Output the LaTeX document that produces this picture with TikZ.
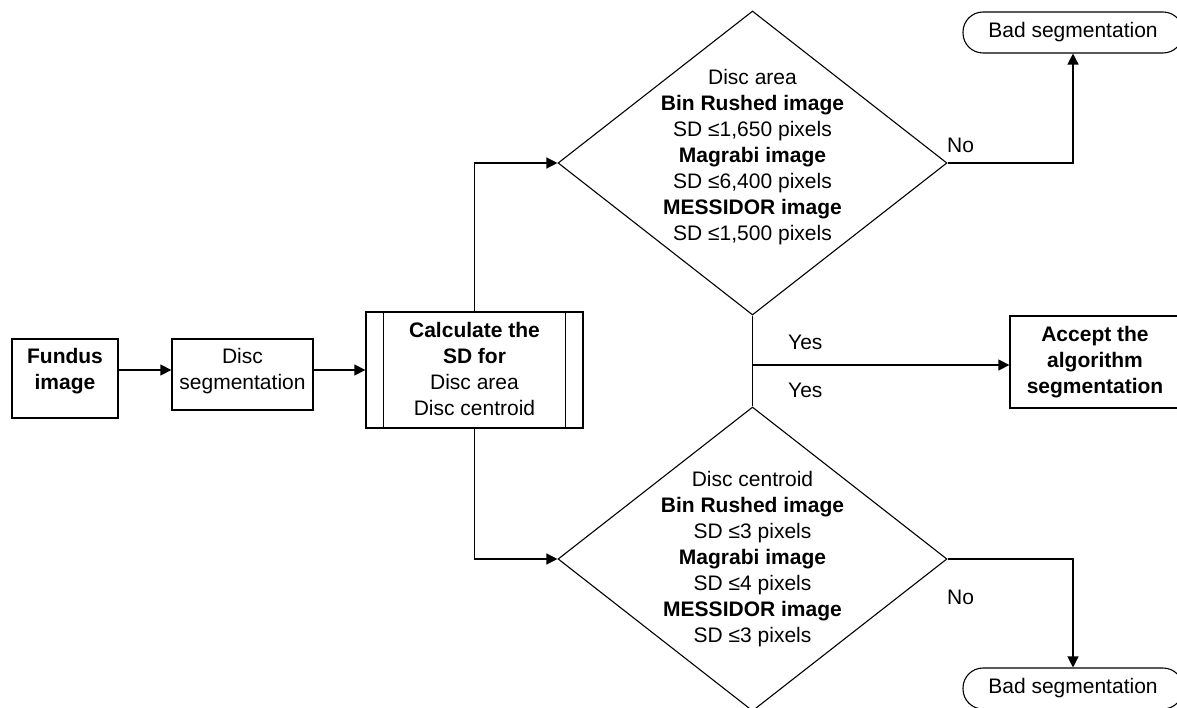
\documentclass[tikz,border=0pt]{standalone}
\usepackage{fontspec}
\setmainfont{Liberation Sans}
\usetikzlibrary{shapes.geometric,arrows.meta,calc}
\tikzset{
  base/.style={font=\fontsize{21}{26}\selectfont},
  box/.style={draw, line width=1.3pt, inner sep=0pt},
  txt/.style={base, align=center, inner sep=0pt},
  dia/.style={draw, line width=1.1pt, shape=diamond, inner sep=0pt, minimum width=389pt, minimum height=304pt},
  term/.style={draw, line width=1.1pt, rounded corners=20pt, minimum width=220pt, minimum height=41pt, base, inner sep=0pt},
  ln/.style={line width=1.3pt},
  arr/.style={line width=1.3pt, -{Triangle[length=11pt,width=11pt]}}
}
\begin{document}
\begin{tikzpicture}[x=1pt,y=-1pt]
\useasboundingbox (0,0) rectangle (1177,708);
% boxes
\node[box, minimum width=106pt, minimum height=79pt] (fund) at (65,378.5) {};
\node[txt, font=\fontsize{21}{26}\selectfont\bfseries] (fundt) at (65,371) {Fundus\\image};
\node[box, minimum width=141pt, minimum height=71pt] (seg) at (242.5,374.5) {};
\node[txt] (segt) at (242.5,371) {Disc\\segmentation};
\node[box, minimum width=217pt, minimum height=116pt] (calc) at (474.5,370) {};
\draw[ln] ($(calc.north west)+(18,0)$) -- ($(calc.south west)+(18,0)$);
\draw[ln] ($(calc.north east)+(-18,0)$) -- ($(calc.south east)+(-18,0)$);
\node[txt] (calct) at (474.5,369) {\textbf{Calculate the}\\\textbf{SD for}\\Disc area\\Disc centroid};
% diamonds
\node[dia] (d1) at (752.5,163) {};
\node[txt] (d1t) at (752.5,157) {Disc area\\\textbf{Bin Rushed image}\\SD ≤1,650 pixels\\\textbf{Magrabi image}\\SD ≤6,400 pixels\\\textbf{MESSIDOR image}\\SD ≤1,500 pixels};
\node[dia] (d2) at (752.5,559) {};
\node[txt] (d2t) at (752.5,559) {Disc centroid\\\textbf{Bin Rushed image}\\SD ≤3 pixels\\\textbf{Magrabi image}\\SD ≤4 pixels\\\textbf{MESSIDOR image}\\SD ≤3 pixels};
% terminals
\node[term] (bad1) at (1073,32.5) {Bad segmentation};
\node[term] (bad2) at (1073,688.5) {Bad segmentation};
\node[box, minimum width=170pt, minimum height=92pt] (acc) at (1095,362) {};
\node[txt] (acct) at (1095,362) {\textbf{Accept the}\\\textbf{algorithm}\\\textbf{segmentation}};
% connectors
\draw[arr] (fund.east |- calc.west) -- (seg.west |- calc.west);
\draw[arr] (seg.east |- calc.west) -- (calc.west);
\draw[arr] (calc.north) |- (d1.west);
\draw[arr] (calc.south) |- (d2.west);
\draw[arr] (d1.east) -| (bad1.south);
\draw[arr] (d2.east) -| (bad2.north);
\draw[ln] (d1.south) -- (d2.north);
\coordinate (yj) at (752.5,365);
\draw[arr] (yj) -- (acc.west |- yj);
% labels
\node[txt, anchor=west] (no1) at (947,145) {No};
\node[txt, anchor=west] (no2) at (947,597) {No};
\node[txt, anchor=west] (yes1) at (788,342) {Yes};
\node[txt, anchor=west] (yes2) at (788,390) {Yes};
\end{tikzpicture}
\end{document}
